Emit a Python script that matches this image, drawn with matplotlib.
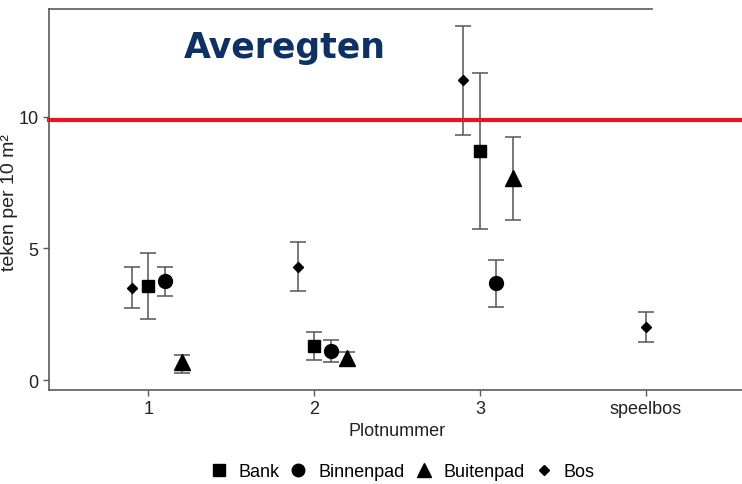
import matplotlib
matplotlib.use("Agg")
import matplotlib.pyplot as plt
import numpy as np
from matplotlib.lines import Line2D

# Mean tick density per plot, with lower/upper error bounds
plots = ["1", "2", "3", "speelbos"]
series = ["Bank", "Binnenpad", "Buitenpad", "Bos"]

bank_mean = [3.58, 1.30, 8.70]
bank_lo = [2.32, 0.76, 5.74]
bank_hi = [4.82, 1.84, 11.67]

binnen_mean = [3.76, 1.09, 3.68]
binnen_lo = [3.21, 0.67, 2.79]
binnen_hi = [4.31, 1.52, 4.56]

buiten_mean = [0.67, 0.83, 7.68]
buiten_lo = [0.27, 0.52, 6.07]
buiten_hi = [0.95, 1.08, 9.23]

bos_mean = [3.50, 4.31, 11.41, 2.00]
bos_lo = [2.74, 3.40, 9.32, 1.43]
bos_hi = [4.30, 5.23, 13.44, 2.57]

# horizontal position of each point (plot index + dodge)
bank_x = [1.0, 2.0, 3.0]
binnen_x = [1.1, 2.1, 3.1]
buiten_x = [1.2, 2.2, 3.2]
bos_x = [0.9, 1.9, 2.9, 4.0]

threshold = 9.87

data = {
    "Bank": (bank_x, bank_mean, bank_lo, bank_hi, "s", 9),
    "Binnenpad": (binnen_x, binnen_mean, binnen_lo, binnen_hi, "o", 10),
    "Buitenpad": (buiten_x, buiten_mean, buiten_lo, buiten_hi, "^", 11),
    "Bos": (bos_x, bos_mean, bos_lo, bos_hi, "D", 5.5),
}

plt.rcParams["font.family"] = ["Liberation Sans", "DejaVu Sans"]

W, H = 742, 485
fig = plt.figure(figsize=(W / 100, H / 100), dpi=100)
ax = fig.add_axes([49 / W, 1 - 391 / H, (745 - 49) / W, (391 - 10) / H])

axis_col = "#5a5a5a"
text_col = "#222222"
for name in series:
    x, m, lo, hi, mk, ms = data[name]
    m = np.array(m)
    yerr = [m - np.array(lo), np.array(hi) - m]
    ax.errorbar(x, m, yerr=yerr, fmt="none", ecolor="#555555",
                elinewidth=1.1, capsize=6, capthick=1.1, zorder=2)
    ax.plot(x, m, ls="none", marker=mk, ms=ms, color="black", zorder=3)

ax.axhline(threshold, color="#e8141e", lw=3, zorder=4, clip_on=False)

ax.set_xlim(0.4, 4.6)
ax.set_ylim(-0.38, 14.1)
ax.set_xticks([1, 2, 3, 4])
ax.set_xticklabels(plots)
ax.set_yticks([0, 5, 10])
ax.tick_params(colors=axis_col, labelcolor=text_col, labelsize=13, length=4,
               width=1)
for side in ("top", "right"):
    ax.spines[side].set_visible(False)
for side in ("left", "bottom"):
    ax.spines[side].set_color(axis_col)
    ax.spines[side].set_linewidth(1.2)

# top frame line stops short of the right edge
fig.add_artist(Line2D([49 / W, 652 / W], [1 - 10 / H, 1 - 10 / H],
                      color=axis_col, lw=1.2))

ax.set_xlabel("Plotnummer", fontsize=13, color=text_col, labelpad=3)
fig.text(10 / W, 1 - 203 / H, "teken per 10 m²", fontsize=14, color=text_col,
         rotation=90, ha="center", va="center")

fig.text(285 / W, 1 - 48 / H, "Averegten", fontsize=25, fontweight="bold",
         color="#0d3165", ha="center", va="center",
         family=["DejaVu Sans"])

handles = [Line2D([0], [0], ls="none", marker=data[n][4], ms=data[n][5] * 0.9,
                  color="black") for n in series]
fig.legend(handles, series, loc="center", bbox_to_anchor=(402 / W, 1 - 473 / H),
           ncol=4, frameon=False, fontsize=13, handletextpad=0.6,
           columnspacing=0.55, handlelength=1.0)

fig.savefig("out.png", dpi=100)
